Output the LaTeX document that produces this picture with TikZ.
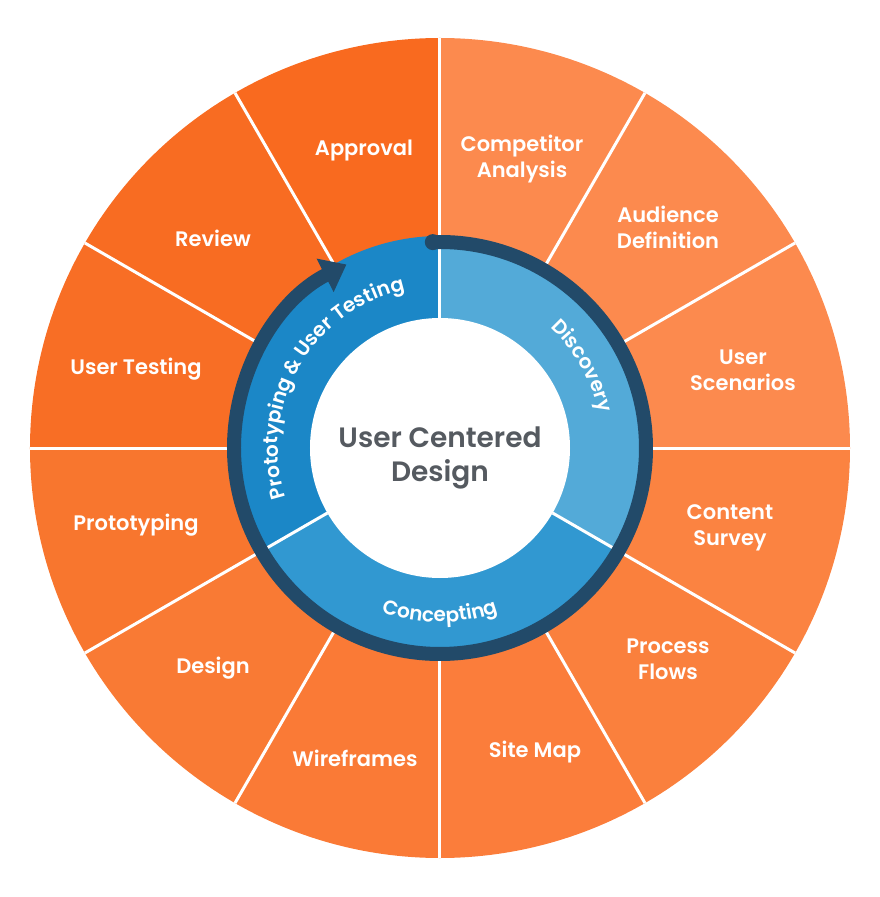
\documentclass[tikz,border=0pt]{standalone}
\usepackage{fontspec}
\setmainfont{Poppins}[BoldFont={Poppins SemiBold}]
\usetikzlibrary{arrows.meta,decorations.text}

\definecolor{orA}{HTML}{F96A1F}
\definecolor{orB}{HTML}{F86C22}
\definecolor{orC}{HTML}{F86E25}
\definecolor{orD}{HTML}{F8762E}
\definecolor{orE}{HTML}{F97A34}
\definecolor{orF}{HTML}{FA7A36}
\definecolor{orG}{HTML}{FB7D3B}
\definecolor{orH}{HTML}{FA803D}
\definecolor{orI}{HTML}{FB8341}
\definecolor{orJ}{HTML}{FC8A4E}
\definecolor{bluL}{HTML}{53AAD8}
\definecolor{bluM}{HTML}{3198D1}
\definecolor{bluD}{HTML}{1B87C7}
\definecolor{ringcol}{HTML}{224A69}
\definecolor{centcol}{HTML}{555A60}

\tikzset{
  divider/.style={white, line width=3},
  lbl/.style={text=white, font=\bfseries\fontsize{21}{26}\selectfont, align=center},
  phase/.style={decorate, decoration={text along path, text align=center, text color=white}},
  ring/.style={ringcol, line width=14}
}

\begin{document}
\begin{tikzpicture}[x=1pt,y=1pt]
\useasboundingbox (-440,-449) rectangle (440,448);
\foreach \a/\c in {0/orJ,30/orJ,60/orJ,90/orA,120/orB,150/orC,180/orD,210/orE,240/orF,270/orG,300/orH,330/orI}
  \fill[\c] (0,0) -- (\a:410) arc[start angle=\a, end angle=\a+30, radius=410] -- cycle;
\foreach \a in {0,30,...,330}
  \draw[divider] (0,0) -- (\a:410);

\fill[bluL] (0,0) -- (90:212) arc[start angle=90, end angle=-30, radius=212] -- cycle;
\fill[bluM] (0,0) -- (-30:212) arc[start angle=-30, end angle=-150, radius=212] -- cycle;
\fill[bluD] (0,0) -- (210:212) arc[start angle=210, end angle=90, radius=212] -- cycle;
\foreach \a in {90,-30,210}
  \draw[divider] (\a:130) -- (\a:212);
\fill[white] (0,0) circle[radius=130];

\draw[ring, -{Triangle[length=24,width=36]}] (92:206) arc[start angle=92, end angle=-243, radius=206];
\fill[ringcol] (92:206) circle[radius=8];

\path[phase, decoration={text={|\bfseries\fontsize{20}{20}\selectfont|Discovery}}]
  (62:163) arc[start angle=62, end angle=-2, radius=163];
\path[phase, decoration={text={|\bfseries\fontsize{20}{20}\selectfont|Concepting}}]
  (230:174) arc[start angle=230, end angle=310, radius=174];
\path[phase, decoration={text={|\bfseries\fontsize{20}{20}\selectfont|Prototyping {\&} User Testing}}]
  (207:162) arc[start angle=207, end angle=93, radius=162];

\node[text=centcol, font=\bfseries\fontsize{28}{34}\selectfont, align=center] (ucd) at (0,-10) {User Centered\\Design};

\node[lbl] (approval) at (-76,297) {Approval};
\node[lbl] (competitor) at (82,289) {Competitor\\Analysis};
\node[lbl] (audience) at (228,221) {Audience\\Definition};
\node[lbl] (scenarios) at (303,78) {User\\Scenarios};
\node[lbl] (survey) at (290,-80) {Content\\Survey};
\node[lbl] (flows) at (228,-211) {Process\\Flows};
\node[lbl] (sitemap) at (95,-304) {Site Map};
\node[lbl] (wireframes) at (-85,-310) {Wireframes};
\node[lbl] (design) at (-227,-220) {Design};
\node[lbl] (prototyping) at (-304,-77) {Prototyping};
\node[lbl] (testing) at (-304,79) {User Testing};
\node[lbl] (review) at (-227,210) {Review};
\end{tikzpicture}
\end{document}
